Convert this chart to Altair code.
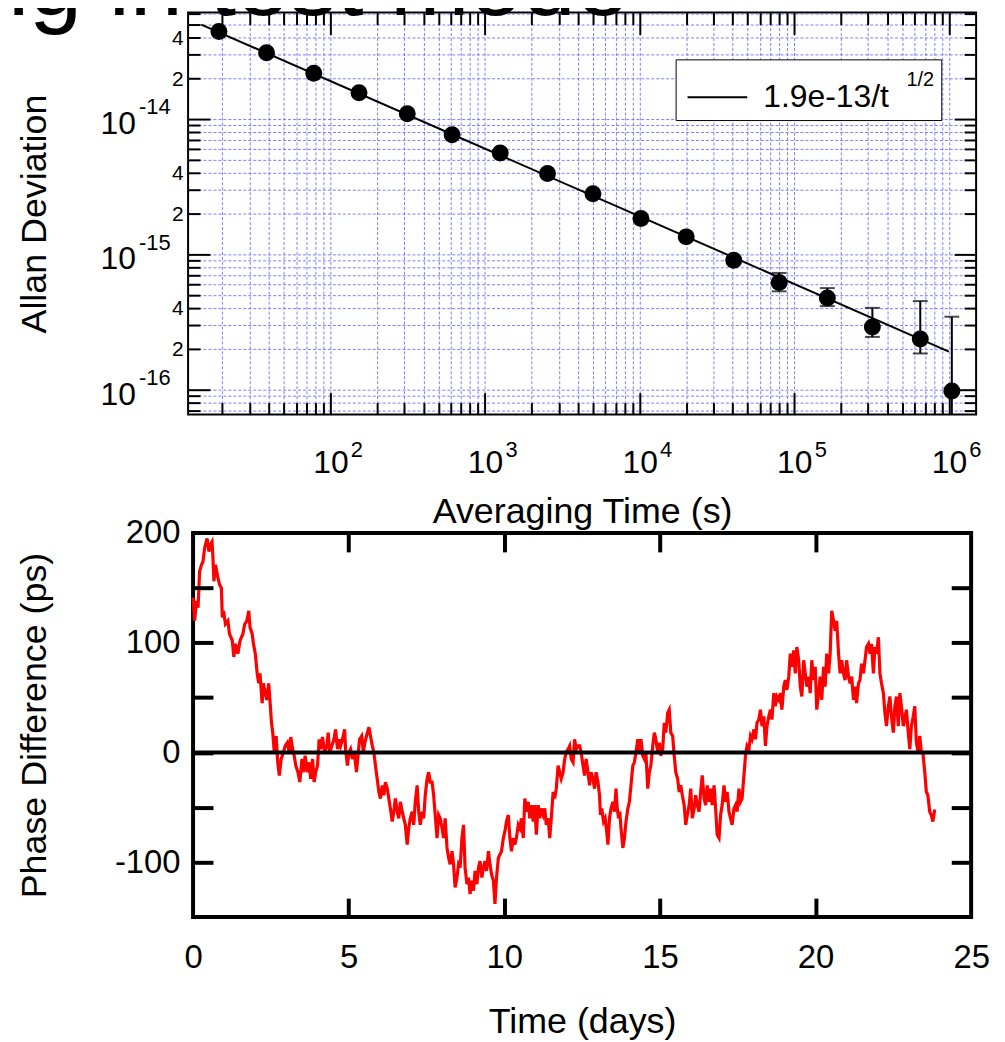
import altair as alt
import pandas as pd

FONT = "Liberation Sans"

# ---------------- top panel: Allan deviation ----------------
tau_s = [19.0, 38.6, 78, 153, 314, 612, 1253, 2535, 4990, 10190, 20000,
         40600, 79800, 163600, 320000, 653000, 1045000]
adev = [4.42e-14, 3.08e-14, 2.17e-14, 1.56e-14, 1.09e-14, 7.63e-15, 5.59e-15,
        3.94e-15, 2.79e-15, 1.83e-15, 1.34e-15, 9.0e-16, 6.15e-16, 4.74e-16,
        2.89e-16, 2.35e-16, 9.7e-17]
err_tau = [79800, 163600, 320000, 653000, 1045000]
err_hi = [7.25e-16, 5.6e-16, 4.0e-16, 4.49e-16, 3.44e-16]
err_lo = [5.3e-16, 4.12e-16, 2.44e-16, 1.84e-16, 1e-17]
fit_tau = [14.6, 1.0e6]
fit_adev = [4.97e-14, 1.9e-16]
fit_label = "1.9e-13/t"
fit_exponent = "1/2"
x_domain = [12, 1.5e6]
y_domain = [6.5e-17, 6.1e-14]
x_decades = [1e2, 1e3, 1e4, 1e5, 1e6]
y_decades = [1e-14, 1e-15, 1e-16]
y_minor_labels = [4e-14, 2e-14, 4e-15, 2e-15, 4e-16, 2e-16]
title_text = "ing in test mode"

x_minor = [m * 10 ** k for k in range(1, 7) for m in range(2, 10)
           if x_domain[0] <= m * 10 ** k <= x_domain[1]]
y_minor = [m * 10.0 ** k for k in range(-17, -13) for m in range(2, 10)
           if y_domain[0] <= m * 10.0 ** k <= y_domain[1]]
x_grid = sorted(x_minor + x_decades)
y_grid = sorted(y_minor + y_decades)

# ---------------- bottom panel: phase difference ----------------
phase_days_a = [0.00, 0.05, 0.11, 0.16, 0.21, 0.27, 0.32, 0.37, 0.45, 0.51,
                0.55, 0.61, 0.64, 0.67, 0.72, 0.80, 0.85, 0.91, 0.94, 0.98,
                1.04, 1.12, 1.17, 1.26, 1.31, 1.36, 1.44, 1.51, 1.60, 1.66,
                1.73, 1.79, 1.83, 1.90, 1.94, 2.00, 2.06, 2.11, 2.15, 2.22,
                2.26, 2.32, 2.37, 2.43, 2.47, 2.52, 2.56, 2.61, 2.67, 2.72,
                2.77, 2.83, 2.90, 2.96, 3.03, 3.09, 3.14, 3.20, 3.25, 3.30,
                3.37, 3.43, 3.50, 3.55, 3.60, 3.67, 3.73, 3.78, 3.84, 3.89,
                3.94, 4.00, 4.05, 4.10, 4.16, 4.23, 4.30, 4.34, 4.39, 4.46,
                4.52, 4.58, 4.64, 4.69, 4.74, 4.80, 4.87, 4.90, 4.96, 5.01,
                5.06, 5.12, 5.18, 5.25, 5.31, 5.35, 5.42, 5.47, 5.52, 5.60,
                5.65, 5.70, 5.76, 5.81, 5.86, 5.93, 5.97, 6.02, 6.08, 6.13,
                6.18, 6.24, 6.29, 6.34, 6.40, 6.45, 6.50, 6.56, 6.61, 6.66,
                6.72, 6.77, 6.82, 6.88, 6.93, 6.98, 7.04, 7.09, 7.14, 7.20,
                7.25, 7.30, 7.36, 7.41, 7.46, 7.52, 7.57, 7.62, 7.68, 7.73,
                7.78, 7.84, 7.89, 7.94, 8.00, 8.05, 8.10, 8.16, 8.21, 8.26,
                8.32, 8.37, 8.42, 8.48, 8.53, 8.58, 8.64, 8.69, 8.74, 8.80,
                8.85, 8.90, 8.96, 9.01, 9.06, 9.12, 9.17, 9.22, 9.28, 9.33,
                9.38, 9.43, 9.49, 9.54, 9.59, 9.65, 9.70, 9.75, 9.81, 9.86,
                9.91, 9.97, 10.02, 10.07, 10.13, 10.18, 10.23, 10.29, 10.34, 10.39,
                10.45, 10.50, 10.55, 10.61, 10.66, 10.71, 10.77, 10.82, 10.87, 10.93,
                10.98, 11.03, 11.09, 11.14, 11.19, 11.25, 11.30, 11.35, 11.41, 11.46,
                11.51, 11.57, 11.62, 11.67, 11.73, 11.78, 11.83, 11.89, 11.94, 11.99,
                12.05, 12.10, 12.15, 12.21, 12.26, 12.31, 12.37]
phase_ps_a = [141, 120, 138, 132, 165, 171, 174, 186, 195, 183,
              189, 192, 177, 156, 171, 159, 153, 150, 123, 129,
              117, 120, 108, 102, 87, 99, 90, 102, 108, 117,
              120, 129, 114, 108, 99, 90, 72, 63, 72, 45,
              63, 54, 48, 63, 48, 27, 18, 0, 15, -9,
              -21, -6, 0, 6, 9, 0, 14, 3, -3, -12,
              -18, -27, -6, -18, -3, -18, -9, -24, -6, -27,
              -18, -12, 12, 3, 14, 0, 6, 18, 0, 6,
              11, 21, 3, 12, 6, 12, 21, 3, -12, 0,
              3, -6, 0, -18, 0, 12, 15, 0, 9, 18,
              23, 15, 6, 0, -12, -27, -36, -42, -30, -39,
              -27, -33, -42, -51, -63, -54, -42, -54, -60, -45,
              -54, -60, -66, -84, -69, -60, -54, -66, -45, -30,
              -54, -66, -54, -60, -39, -24, -18, -27, -27, -39,
              -57, -78, -57, -60, -69, -78, -60, -87, -96, -102,
              -90, -102, -123, -114, -102, -105, -78, -66, -105, -120,
              -114, -129, -117, -126, -108, -120, -105, -99, -114, -105,
              -99, -108, -90, -102, -111, -117, -138, -114, -96, -93,
              -90, -78, -72, -63, -57, -78, -90, -78, -84, -78,
              -66, -69, -60, -78, -42, -54, -45, -60, -48, -63,
              -48, -75, -48, -60, -51, -57, -51, -66, -60, -78,
              -60, -36, -42, -33, -12, -18, -24, -18, -6, 0,
              3, 6, -6, -9, 12, 3, 6]
phase_days_b = [12.42, 12.47, 12.53, 12.58, 12.63, 12.69, 12.74, 12.79, 12.85, 12.90,
                12.95, 13.01, 13.06, 13.09, 13.13, 13.19, 13.24, 13.29, 13.33, 13.38,
                13.43, 13.49, 13.54, 13.59, 13.62, 13.67, 13.71, 13.75, 13.81, 13.86,
                13.91, 13.97, 14.02, 14.07, 14.13, 14.18, 14.23, 14.29, 14.34, 14.39,
                14.45, 14.50, 14.55, 14.61, 14.66, 14.71, 14.77, 14.82, 14.87, 14.93,
                14.98, 15.03, 15.09, 15.14, 15.19, 15.25, 15.30, 15.35, 15.41, 15.46,
                15.51, 15.57, 15.62, 15.67, 15.72, 15.78, 15.83, 15.88, 15.94, 15.99,
                16.04, 16.10, 16.15, 16.20, 16.26, 16.31, 16.36, 16.42, 16.47, 16.52,
                16.58, 16.63, 16.68, 16.74, 16.79, 16.84, 16.90, 16.95, 17.00, 17.06,
                17.11, 17.16, 17.22, 17.27, 17.32, 17.38, 17.43, 17.48, 17.54, 17.59,
                17.64, 17.70, 17.75, 17.80, 17.86, 17.91, 17.96, 18.02, 18.07, 18.12,
                18.18, 18.23, 18.28, 18.34, 18.39, 18.44, 18.50, 18.55, 18.60, 18.66,
                18.71, 18.76, 18.82, 18.87, 18.92, 18.98, 19.03, 19.08, 19.14, 19.19,
                19.24, 19.30, 19.35, 19.40, 19.46, 19.51, 19.56, 19.62, 19.67, 19.72,
                19.78, 19.83, 19.88, 19.94, 19.99, 20.04, 20.10, 20.15, 20.20, 20.26,
                20.31, 20.36, 20.42, 20.47, 20.52, 20.58, 20.63, 20.68, 20.74, 20.79,
                20.84, 20.90, 20.95, 21.00, 21.06, 21.11, 21.16, 21.22, 21.27, 21.32,
                21.38, 21.43, 21.48, 21.54, 21.59, 21.64, 21.70, 21.75, 21.80, 21.86,
                21.91, 21.96, 22.02, 22.07, 22.12, 22.18, 22.23, 22.28, 22.34, 22.39,
                22.44, 22.50, 22.55, 22.60, 22.66, 22.71, 22.76, 22.82, 22.87, 22.92,
                22.98, 23.03, 23.08, 23.14, 23.19, 23.24, 23.30, 23.35, 23.40, 23.45,
                23.51, 23.56, 23.61, 23.67, 23.72, 23.77, 23.83]
phase_ps_b = [6, 0, -12, -21, -6, -18, -30, -18, -24, -33,
              -18, -27, -39, -57, -51, -63, -60, -72, -84, -60,
              -51, -45, -54, -33, -48, -60, -54, -69, -87, -78,
              -63, -51, -45, -30, -12, -9, 0, 12, 0, 12,
              -3, -6, 0, -33, -18, -12, 6, 18, 12, 0,
              9, -3, 3, 27, 18, 36, 39, 18, 15, -3,
              -18, -24, -36, -30, -39, -48, -66, -57, -48, -33,
              -60, -51, -39, -48, -54, -36, -21, -42, -48, -30,
              -45, -33, -48, -30, -51, -75, -78, -57, -48, -30,
              -45, -36, -54, -60, -66, -51, -48, -54, -33, -45,
              -42, -21, -3, 6, 3, 15, 12, 21, 12, 27,
              30, 39, 24, 33, 6, 24, 33, 39, 30, 54,
              42, 51, 48, 54, 39, 60, 66, 57, 69, 90,
              78, 93, 72, 96, 84, 60, 51, 84, 72, 60,
              69, 54, 84, 66, 78, 39, 54, 69, 48, 78,
              60, 90, 72, 90, 129, 120, 111, 120, 90, 72,
              84, 72, 66, 84, 69, 63, 69, 48, 60, 45,
              63, 66, 81, 72, 84, 96, 99, 90, 99, 72,
              96, 90, 105, 72, 63, 54, 36, 24, 42, 51,
              33, 18, 42, 51, 24, 54, 42, 24, 30, 39,
              18, 3, 24, 33, 42, 9, 0, 15, 0, 0,
              -18, -36, -39, -54, -57, -63, -52]
zero_level = [0]
bottom_x_domain = [0, 25]
bottom_y_domain = [-150, 200]
bottom_x_labels = [0, 5, 10, 15, 20, 25]
bottom_x_ticks = [5, 10, 15, 20]
bottom_y_labels = [-100, 0, 100, 200]
bottom_y_ticks = [-100, -50, 0, 50, 100, 150]

assert len(phase_days_a) == len(phase_ps_a)
assert len(phase_days_b) == len(phase_ps_b)

pts = pd.DataFrame({"tau": tau_s, "adev": adev})
err = pd.DataFrame({"tau": err_tau, "hi": err_hi, "lo": err_lo})
fit = pd.DataFrame({"tau": fit_tau, "adev": fit_adev,
                    "series": [fit_label] * len(fit_tau)})
phase = pd.DataFrame({"t": phase_days_a + phase_days_b,
                      "ps": phase_ps_a + phase_ps_b})
zero_df = pd.DataFrame({"ps": zero_level})
title_df = pd.DataFrame({"text": [title_text]})

xs = alt.Scale(type="log", domain=x_domain, nice=False)
ys = alt.Scale(type="log", domain=y_domain, nice=False)
bxs = alt.Scale(domain=bottom_x_domain, nice=False, zero=False)
bys = alt.Scale(domain=bottom_y_domain, nice=False, zero=False)

GRID_COLOR = "#6f6fff"


def tick_axis(orient, values, size, width):
    return alt.Axis(orient=orient, values=values, offset=-size, tickSize=size,
                    tickWidth=width, tickColor="black", labels=False,
                    domain=False, grid=False, title=None, zindex=1)


def label_axis(orient, values, expr, size, pad, **kw):
    return alt.Axis(orient=orient, values=values, labelExpr=expr, ticks=False,
                    tickSize=0, domain=False, grid=False, labelFontSize=size,
                    labelPadding=pad, labelFlush=False, labelOverlap=False,
                    labelFont=FONT, labelColor="black", zindex=1, **kw)


def grid_axis(orient, values):
    return alt.Axis(orient=orient, values=values, grid=True, gridColor=GRID_COLOR,
                    gridDash=[3, 2], gridWidth=1, gridOpacity=0.9, ticks=False,
                    tickSize=0, labels=False, domain=False, title=None, zindex=0)


TITLE_KW = dict(titleFontSize=36, titleFont=FONT, titleFontWeight="normal",
                titleColor="black")

xa_ten = label_axis("bottom", x_decades, "'10'", 32, 33, labelAlign="center",
                    labelBaseline="top", title="Averaging Time (s)",
                    titlePadding=16, **TITLE_KW)
xb_exp = label_axis("bottom", x_decades, "'' + round(log(datum.value)/LN10)", 22, 25,
                    labelAlign="left", labelBaseline="top", labelOffset=20,
                    title=None)
ya_ten = label_axis("left", y_decades, "'10'", 32, 53, labelAlign="right",
                    labelBaseline="middle", labelOffset=5, title="Allan Deviation",
                    titlePadding=47, **TITLE_KW)
yb_exp = label_axis("left", y_decades, "'-' + round(-log(datum.value)/LN10)", 22, 18,
                    labelAlign="right", labelBaseline="middle", labelOffset=-12,
                    title=None)
yc_minor = label_axis("left", y_minor_labels,
                      "'' + round(datum.value / pow(10, floor(log(datum.value)/LN10 + 1e-9)))",
                      21, 5, labelAlign="right", labelBaseline="middle",
                      labelOffset=1, title=None)

legend = alt.Legend(orient="none", legendX=490, legendY=47, title=fit_exponent,
                    titleOrient="right", titleAnchor="middle",
                    titleBaseline="bottom", titleFontSize=20,
                    titleFontWeight="normal", titleFont=FONT, titleColor="black",
                    titlePadding=18, symbolType="stroke", symbolSize=3600,
                    symbolStrokeWidth=2, symbolOffset=4, labelFont=FONT,
                    labelFontSize=32, labelColor="black", labelOffset=15,
                    padding=7, strokeColor="black", fillColor="white",
                    cornerRadius=0)

grid_layer = alt.Chart(pts).mark_point(opacity=0).encode(
    x=alt.X("tau:Q", scale=xs, axis=grid_axis("bottom", x_grid)),
    y=alt.Y("adev:Q", scale=ys, axis=grid_axis("left", y_grid)),
)
tick_layer1 = alt.Chart(pts).mark_point(opacity=0).encode(
    x=alt.X("tau:Q", scale=xs, axis=tick_axis("top", x_decades, 22, 2)),
    y=alt.Y("adev:Q", scale=ys, axis=tick_axis("right", y_decades, 22, 2)),
)
tick_layer2 = alt.Chart(pts).mark_point(opacity=0).encode(
    x=alt.X("tau:Q", scale=xs, axis=tick_axis("top", x_minor, 12, 2)),
    y=alt.Y("adev:Q", scale=ys, axis=tick_axis("right", y_minor, 12, 2)),
)
err_rules = alt.Chart(err).mark_rule(color="black", strokeWidth=2, clip=True).encode(
    x=alt.X("tau:Q", scale=xs, axis=tick_axis("bottom", x_minor, 12, 2)),
    y=alt.Y("hi:Q", scale=ys, axis=tick_axis("left", y_minor, 12, 2)),
    y2="lo:Q",
)
caps_hi = alt.Chart(err).mark_tick(orient="horizontal", size=15, thickness=2,
                                   color="black").encode(
    x=alt.X("tau:Q", scale=xs, axis=tick_axis("bottom", x_decades, 22, 2)),
    y=alt.Y("hi:Q", scale=ys, axis=tick_axis("left", y_decades, 22, 2)),
)
caps_lo = alt.Chart(err).transform_filter(
    alt.datum.lo >= y_domain[0]
).mark_tick(orient="horizontal", size=15, thickness=2, color="black").encode(
    x=alt.X("tau:Q", scale=xs, axis=xb_exp),
    y=alt.Y("lo:Q", scale=ys, axis=yc_minor),
)
fit_line = alt.Chart(fit).mark_line(strokeWidth=2).encode(
    x=alt.X("tau:Q", scale=xs, axis=xa_ten),
    y=alt.Y("adev:Q", scale=ys, axis=yb_exp),
    color=alt.Color("series:N", scale=alt.Scale(range=["black"]), legend=legend),
)
dots = alt.Chart(pts).mark_circle(size=290, color="black", opacity=1).encode(
    x=alt.X("tau:Q", scale=xs, axis=None),
    y=alt.Y("adev:Q", scale=ys, axis=ya_ten),
)
big_title = alt.Chart(title_df).mark_text(
    fontSize=96, font=FONT, align="right", baseline="alphabetic", color="black"
).encode(x=alt.value(443), y=alt.value(2), text="text:N")

top = alt.layer(
    grid_layer, tick_layer1, tick_layer2, err_rules, caps_hi, caps_lo,
    fit_line, dots, big_title,
).resolve_axis(x="independent", y="independent").properties(
    width=792, height=404,
    view=alt.ViewBackground(stroke="black", strokeWidth=2, fill="white"),
)

# ---------------- bottom chart ----------------
bx_labels = alt.Axis(orient="bottom", values=bottom_x_labels, ticks=False, tickSize=0,
                     domain=False, grid=False, labelFontSize=33, labelPadding=25,
                     labelFlush=False, labelOverlap=False, labelFont=FONT,
                     labelColor="black", title="Time (days)", titlePadding=30,
                     zindex=1, **TITLE_KW)
by_labels = alt.Axis(orient="left", values=bottom_y_labels,
                     labelExpr="datum.value < 0 ? '-' + abs(datum.value) : '' + datum.value",
                     ticks=False, tickSize=0, domain=False, grid=False,
                     labelFontSize=33, labelPadding=13, labelFlush=False,
                     labelOverlap=False, labelFont=FONT, labelColor="black",
                     title="Phase Difference (ps)", titlePadding=61, zindex=1,
                     **TITLE_KW)

phase_line = alt.Chart(phase).mark_line(color="#ff0000", strokeWidth=3.2).encode(
    x=alt.X("t:Q", scale=bxs, axis=bx_labels),
    y=alt.Y("ps:Q", scale=bys, axis=by_labels),
)
zero_rule = alt.Chart(zero_df).mark_rule(color="black", strokeWidth=4).encode(
    y=alt.Y("ps:Q", scale=bys, axis=tick_axis("left", bottom_y_ticks, 20, 4)),
)
bcarrier1 = alt.Chart(phase).mark_point(opacity=0).encode(
    x=alt.X("t:Q", scale=bxs, axis=tick_axis("bottom", bottom_x_ticks, 19, 4)),
    y=alt.Y("ps:Q", scale=bys, axis=tick_axis("right", bottom_y_ticks, 20, 4)),
)
bcarrier2 = alt.Chart(phase).mark_point(opacity=0).encode(
    x=alt.X("t:Q", scale=bxs, axis=tick_axis("top", bottom_x_ticks, 19, 4)),
    y=alt.Y("ps:Q", scale=bys, axis=None),
)

bottom = alt.layer(
    bcarrier1, bcarrier2, phase_line, zero_rule,
).resolve_axis(x="independent", y="independent").properties(
    width=782, height=386,
    view=alt.ViewBackground(stroke="black", strokeWidth=4, fill="white"),
)

chart = alt.vconcat(
    top, bottom, spacing=119, bounds="flush", center=True
).properties(
    padding={"left": -55, "top": -74, "right": 5, "bottom": 5},
    background="white",
).configure_view(stroke=None)

chart.save("out.html", embed_options={"renderer": "svg", "actions": False})
